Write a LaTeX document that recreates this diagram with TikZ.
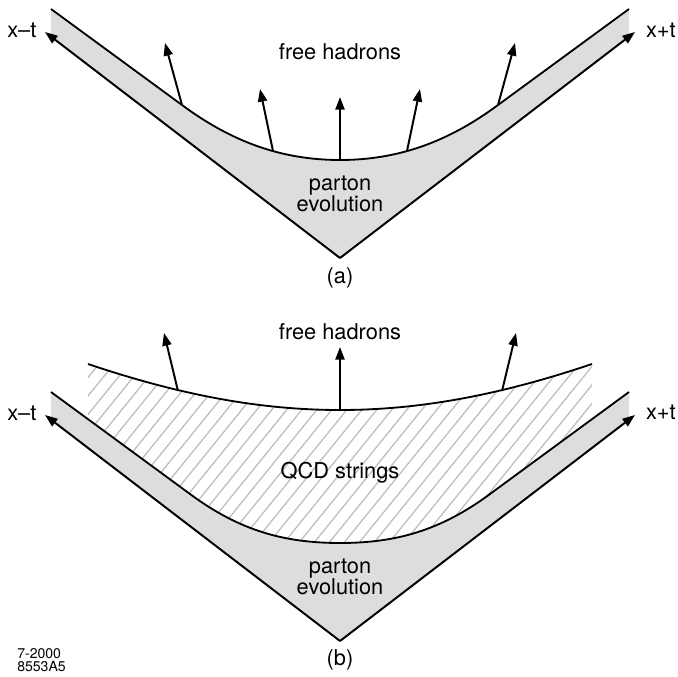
\documentclass[tikz,border=0pt]{standalone}
\usepackage{fontspec}
\setmainfont{TeX Gyre Heros}
\usetikzlibrary{arrows.meta}
\definecolor{cone}{HTML}{DCDDDF}
\definecolor{hatchgray}{HTML}{BDBDBD}
\tikzset{rim/.style={line width=1.3pt,black},
  arr/.style={line width=1.4pt,-{Triangle[length=9pt,width=6.5pt]}},
  hatchline/.style={line width=0.9pt,hatchgray},
  lbl/.style={font=\fontsize{15.5}{15}\selectfont,align=center,inner sep=0pt},
  tag/.style={font=\fontsize{10}{9.5}\selectfont,align=left,inner sep=0pt}}

\begin{document}
\begin{tikzpicture}[x=0.025cm,y=-0.025cm]
\useasboundingbox (0,0) rectangle (678,677);
% (a) parton evolution then free hadrons
\coordinate (apexA) at (340,258); \coordinate (tipAL) at (45,32); \coordinate (tipAR) at (635,32);
\fill[cone] (51,9) -- (182,105) .. controls (232,142) and (282,160) .. (340,160) .. controls (398,160) and (448,142) .. (498,105) -- (629,9) -- (629,37) -- (apexA) -- (51,37) -- cycle;
\draw[rim] (51,9) -- (182,105) .. controls (232,142) and (282,160) .. (340,160) .. controls (398,160) and (448,142) .. (498,105) -- (629,9);
\draw[arr] (apexA) -- (tipAL); \draw[arr] (apexA) -- (tipAR);
\foreach \n/\bx/\by/\tx/\ty in {1/182/105/165/43, 2/273/151/260/89, 3/340/160/340/97, 4/407/151/420/89, 5/498/105/515/43}{
  \coordinate (hA\n) at (\bx,\by); \coordinate (hA\n t) at (\tx,\ty);
  \draw[arr] (hA\n) -- (hA\n t);}
\node[lbl] (hadA) at (340,52) {free hadrons};
\node[lbl] (partA) at (340,194) {parton\\evolution};
\node[lbl,anchor=west] (xmtA) at (7,30) {x--t};
\node[lbl,anchor=east] (xptA) at (676,30) {x+t};
\node[lbl] (capA) at (340,278) {(a)};

% (b) with QCD strings between
\coordinate (apexB) at (340,641); \coordinate (tipBL) at (45,415); \coordinate (tipBR) at (635,415);
\begin{scope}
\clip (88,364) .. controls (180,395) and (260,410) .. (340,410) .. controls (420,410) and (500,395) .. (592,364) -- (592,422) -- (490,494) .. controls (440,531) and (395,543) .. (340,543) .. controls (285,543) and (240,531) .. (190,494) -- (88,422) -- cycle;
\foreach \x in {-90,-75,...,600} \draw[hatchline] (\x,560) -- ++(180,-222);
\end{scope}
\draw[rim] (88,364) .. controls (180,395) and (260,410) .. (340,410) .. controls (420,410) and (500,395) .. (592,364);
\fill[cone] (51,392) -- (190,494) .. controls (240,531) and (285,543) .. (340,543) .. controls (395,543) and (440,531) .. (490,494) -- (629,392) -- (629,420) -- (apexB) -- (51,420) -- cycle;
\draw[rim] (51,392) -- (190,494) .. controls (240,531) and (285,543) .. (340,543) .. controls (395,543) and (440,531) .. (490,494) -- (629,392);
\draw[arr] (apexB) -- (tipBL); \draw[arr] (apexB) -- (tipBR);
\foreach \n/\bx/\by/\tx/\ty in {1/178/391/164/333, 2/340/410/340/347, 3/502/391/516/333}{
  \coordinate (hB\n) at (\bx,\by); \coordinate (hB\n t) at (\tx,\ty);
  \draw[arr] (hB\n) -- (hB\n t);}
\node[lbl] (hadB) at (340,332) {free hadrons};
\node[lbl] (qcd) at (340,473) {QCD strings};
\node[lbl] (partB) at (340,577) {parton\\evolution};
\node[lbl,anchor=west] (xmtB) at (7,413) {x--t};
\node[lbl,anchor=east] (xptB) at (676,412) {x+t};
\node[lbl] (capB) at (340,660) {(b)};
\node[tag,anchor=west] (code) at (17,660) {7-2000\\8553A5};
\end{tikzpicture}
\end{document}
